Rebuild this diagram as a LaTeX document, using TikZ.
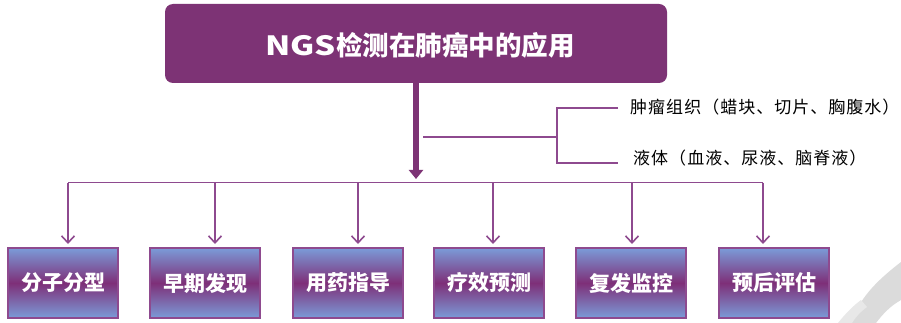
\documentclass[tikz,border=0pt]{standalone}
\usepackage{graphicx}
\usepackage{fontspec}
\newfontfamily\cjk{Noto Sans CJK SC}
\newfontfamily\cjkspaced[LetterSpace=6]{Noto Sans CJK SC}
\usetikzlibrary{arrows.meta}
\definecolor{titlepurple}{HTML}{7D3375}
\definecolor{linepurple}{HTML}{8E4A8F}
\definecolor{boxblue}{HTML}{7B9BD8}
\definecolor{boxmid}{HTML}{7E2F78}
\tikzset{
  titlebox/.style={draw=none, fill=titlepurple, rounded corners=8pt, minimum width=502pt, minimum height=79pt, text=white, font=\cjk\bfseries\fontsize{26.5}{30}\selectfont, inner sep=0pt},
  appbox/.style={draw=linepurple, line width=1.5pt, top color=boxblue, bottom color=boxblue, middle color=boxmid, minimum width=110pt, minimum height=70pt, text=white, font=\cjk\bfseries\fontsize{21}{24}\selectfont, inner sep=0pt},
  srctext/.style={anchor=west, text=black, font=\cjkspaced\fontsize{17}{20}\selectfont, inner sep=0pt},
  link/.style={draw=linepurple, line width=1.6pt},
  downarrow/.style={link, -{Straight Barb[length=7pt,width=13pt,line width=1.6pt]}},
  mainarrow/.style={draw=titlepurple, line width=6pt, -{Triangle[length=9pt,width=14pt]}}
}
\begin{document}
\begin{tikzpicture}[x=1pt,y=-1pt]
\useasboundingbox (0,0) rectangle (901,323);
\fill[white] (0,0) rectangle (901,323);
% faint watermark
\fill[gray!28] (852,323) .. controls (858,300) and (875,282) .. (901,262) -- (901,300) .. controls (890,306) and (882,315) .. (876,323) -- cycle;
\fill[gray!18] (838,323) .. controls (846,313) and (853,306) .. (861,300) -- (867,307) .. controls (860,312) and (855,318) .. (852,323) -- cycle;

\node[titlebox] (title) at (416,43.5) {};
\node[text=white, font=\cjk\bfseries\fontsize{26.5}{30}\selectfont, inner sep=0pt] (titletext) at (420,45) {\scalebox{1.25}[1]{NGS}检测在肺癌中的应用};

% sample sources
\coordinate (tap) at (416,137);
\coordinate (fork) at (557,137);
\coordinate (forkA) at (557,108);
\coordinate (forkB) at (557,163);
\node[srctext] (srcA) at (630,107) {肿瘤组织（蜡块、切片、胸腹水）};
\node[srctext] (srcB) at (633,158) {液体（血液、尿液、脑脊液）};
\coordinate (endA) at (618,108);
\coordinate (endB) at (618,163);
\draw[link] ([xshift=7pt]tap) -- (fork);
\draw[link] (endA) -- (forkA) -- (forkB) -- (endB);

% bus
\coordinate (busL) at (68,182.5);
\coordinate (busR) at (763,182.5);
\draw[link] (busL) -- (busR);
\draw[mainarrow] (title.south -| tap) -- (416,179);

% application boxes
\node[appbox] (b1) at (63,283) {分子分型};
\node[appbox] (b2) at (205,283) {早期发现};
\node[appbox] (b3) at (348,283) {用药指导};
\node[appbox] (b4) at (489,283) {疗效预测};
\node[appbox] (b5) at (631,283) {复发监控};
\node[appbox] (b6) at (774,283) {预后评估};

\foreach \n/\x in {b1/68,b2/215,b3/358,b4/493,b5/632,b6/763}{
  \draw[downarrow] (\x,182.5) -- (\x,244);
}
\end{tikzpicture}
\end{document}
